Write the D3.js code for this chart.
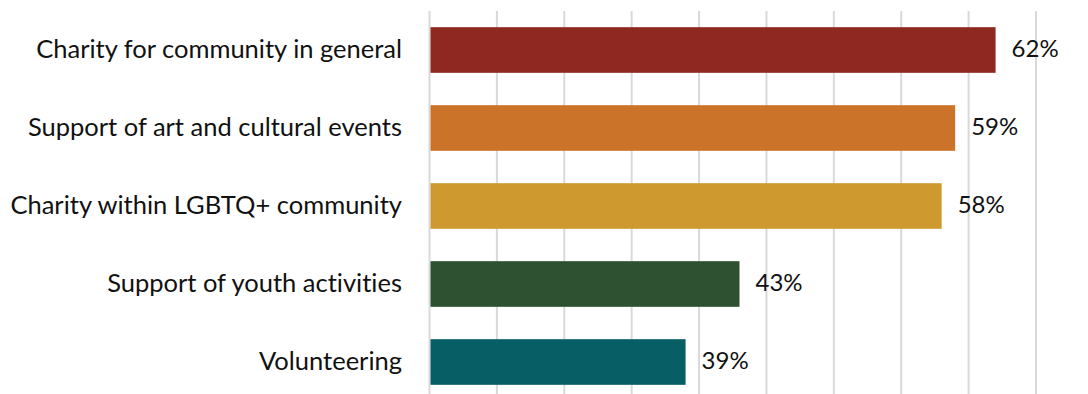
<!DOCTYPE html>
<html>
<head>
<meta charset="utf-8">
<script src="https://cdn.jsdelivr.net/npm/d3@7"></script>
<style>
  html, body { margin: 0; padding: 0; background: #fff; }
  svg { display: block; }
  text { font-family: "Lato", "Noto Sans", sans-serif; fill: #111; font-variant-ligatures: none; }
</style>
</head>
<body>
<svg id="chart" width="1088" height="394"></svg>
<script>
// Community engagement activities, share of respondents
const categories = [
  "Charity for community in general",
  "Support of art and cultural events",
  "Charity within LGBTQ+ community",
  "Support of youth activities",
  "Volunteering"
];
const values = [0.62, 0.59, 0.58, 0.43, 0.39];
const colors = ["#8f2820", "#cb7429", "#ce9a2f", "#2d5131", "#075e65"];
const gridTicks = [0.20, 0.25, 0.30, 0.35, 0.40, 0.45, 0.50, 0.55, 0.60, 0.65];

const svg = d3.select("#chart");

const x = d3.scaleLinear()
  .domain([0.20, 0.65])
  .range([429.5, 1036]);

const y = d3.scaleBand()
  .domain(categories)
  .range([11, 401])
  .paddingInner(0.415)
  .paddingOuter(0.2075);

// vertical gridlines
svg.append("g")
  .selectAll("line")
  .data(gridTicks)
  .join("line")
  .attr("x1", d => x(d))
  .attr("x2", d => x(d))
  .attr("y1", 11)
  .attr("y2", 401)
  .attr("stroke", "#d9d9d9")
  .attr("stroke-width", 2);

// bars
svg.append("g")
  .selectAll("rect")
  .data(values)
  .join("rect")
  .attr("x", x(0.20) + 1)
  .attr("y", (d, i) => y(categories[i]))
  .attr("width", d => x(d) - x(0.20) - 1)
  .attr("height", y.bandwidth())
  .attr("fill", (d, i) => colors[i]);

// category labels
svg.append("g")
  .selectAll("text")
  .data(categories)
  .join("text")
  .attr("x", 402)
  .attr("y", d => y(d) + y.bandwidth() / 2)
  .attr("dy", "0.3em")
  .attr("text-anchor", "end")
  .style("font-size", "25.5px")
  .text(d => d);

// value labels
svg.append("g")
  .selectAll("text")
  .data(values)
  .join("text")
  .attr("x", d => x(d) + 16)
  .attr("y", (d, i) => y(categories[i]) + y.bandwidth() / 2)
  .attr("dy", "0.3em")
  .style("font-size", "24px")
  .text(d => d3.format(".0%")(d));
</script>
</body>
</html>
